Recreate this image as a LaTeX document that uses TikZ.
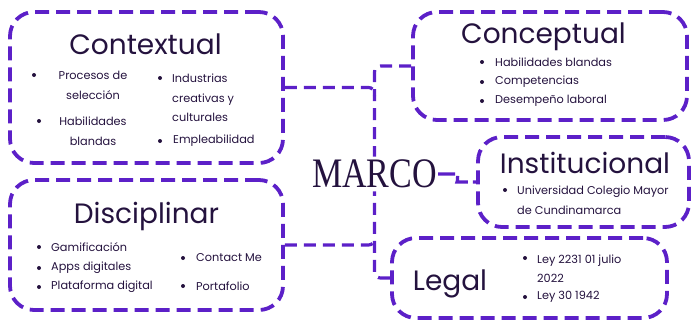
\documentclass[tikz,border=0pt]{standalone}
\usepackage{fontspec}
\usepackage{graphicx}
\setmainfont{Poppins}
\newfontfamily\marcofont{Liberation Serif}
\definecolor{marcopurple}{RGB}{92,32,200}
\definecolor{marcoink}{RGB}{36,18,62}
\tikzset{
  box/.style={draw=marcopurple, line width=3.8pt, dash pattern=on 14pt off 7pt, rounded corners=24pt, inner sep=0pt},
  link/.style={draw=marcopurple, line width=3.2pt, dash pattern=on 12pt off 7pt, rounded corners=6pt},
  heading/.style={text=marcoink, font=\fontsize{28}{28}\selectfont, inner sep=0pt, anchor=base},
  entry/.style={text=marcoink, font=\fontsize{11.3}{19.5}\selectfont, inner sep=0pt, anchor=west, align=left}
}

\begin{document}
\begin{tikzpicture}[x=1pt,y=-1pt]
			\useasboundingbox (0,0) rectangle (692,321);
			% boxes
			\node[box, minimum width=273pt, minimum height=151pt] (ctx) at (146.5,87.5) {};
			\node[box, minimum width=273pt, minimum height=130pt] (disc) at (146.5,245) {};
			\node[box, minimum width=274pt, minimum height=108pt] (concept) at (550,66) {};
			\node[box, minimum width=211pt, minimum height=90pt] (inst) at (583.5,182) {};
			\node[box, minimum width=275pt, minimum height=80pt] (legal) at (529.5,278) {};
			% centre
			\node[text=marcoink, inner xsep=1pt, inner ysep=3pt, font=\marcofont\fontsize{42}{42}\selectfont] (marco) at (374.5,174) {\scalebox{0.81}[1]{MARCO}};
			\coordinate (upj) at (374.5,96);
			\coordinate (loj) at (374.5,237);
			\coordinate (kink) at (463,182);
			\draw[link] (concept.west) -| (marco.north);
			\draw[link] (ctx.east) -| (upj);
			\draw[link] (legal.west) -| (marco.south);
			\draw[link] (disc.east) -| (loj);
			\draw[link, dash pattern=on 17pt off 5pt] (marco.east) -- ++(14,0) to[out=0,in=180] (kink) -- (inst.west);
			% titles
			\node[heading] (ctxt) at (145.5,55) {Contextual};
			\node[heading] (disct) at (146.5,223) {Disciplinar};
			\node[heading] (conceptt) at (543.5,44) {Conceptual};
			\node[heading] (instt) at (585,173) {Institucional};
			\node[heading] (legalt) at (450,290) {Legal};
			% Contextual
			\fill[marcoink] (34,75) circle (2pt);
			\node[entry, anchor=center, align=center] (ctxa) at (93,85.5) {Procesos de\\selección};
			\fill[marcoink] (39,121) circle (2pt);
			\node[entry, anchor=center, align=center] (ctxb) at (93,131) {Habilidades\\blandas};
			\fill[marcoink] (160,78) circle (2pt);
			\node[entry] (ctxc) at (172,98) { Industrias\\creativas y\\culturales};
			\fill[marcoink] (160,141) circle (2pt);
			\node[entry] (ctxd) at (173,141) {Empleabilidad};
			% Disciplinar
			\fill[marcoink] (39,247) circle (2pt);
			\node[entry] (disca) at (51,247) {Gamificación};
			\fill[marcoink] (39,268) circle (2pt);
			\node[entry] (discb) at (51,268) {Apps digitales};
			\fill[marcoink] (39,287) circle (2pt);
			\node[entry] (discc) at (51,287) {Plataforma digital};
			\fill[marcoink] (183,258) circle (2pt);
			\node[entry] (discd) at (196,258) {Contact Me};
			\fill[marcoink] (183,286) circle (2pt);
			\node[entry] (disce) at (196,286) {Portafolio};
			% Conceptual
			\fill[marcoink] (482,62) circle (2pt);
			\node[entry] (concepta) at (495,62) {Habilidades blandas};
			\fill[marcoink] (482,82) circle (2pt);
			\node[entry] (conceptb) at (495,82) {Competencias};
			\fill[marcoink] (482,101) circle (2pt);
			\node[entry] (conceptc) at (495,101) {Desempeño laboral};
			% Institucional
			\fill[marcoink] (505,190) circle (2pt);
			\node[entry] (insta) at (517,200) {Universidad Colegio Mayor\\de Cundinamarca};
			% Legal
			\fill[marcoink] (525,258) circle (2pt);
			\node[entry] (legala) at (537,268.5) {Ley 2231 01 julio\\2022};
			\fill[marcoink] (525,297) circle (2pt);
			\node[entry] (legalb) at (537,297) {Ley 30 1942};
		\end{tikzpicture}
\end{document}
